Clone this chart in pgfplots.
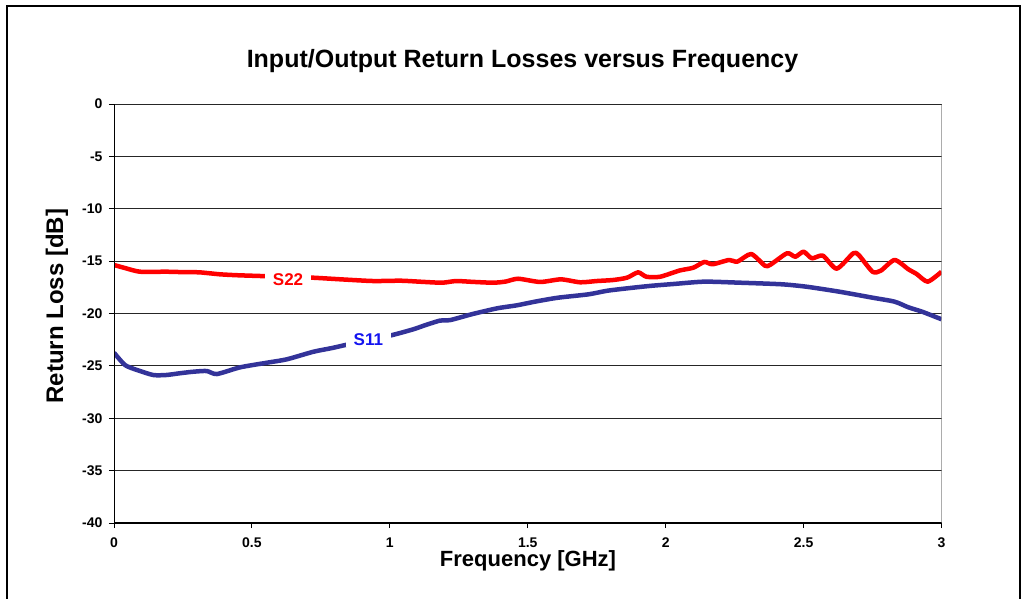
\documentclass[border=0pt]{standalone}
\usepackage{pgfplots}
\pgfplotsset{compat=1.18}
\usepackage{fontspec}
\setmainfont{Liberation Sans}
\definecolor{sred}{RGB}{255,0,0}
\definecolor{snavy}{RGB}{51,51,153}
\definecolor{sblue}{RGB}{20,20,240}
\begin{document}
\begin{tikzpicture}[x=1pt,y=1pt]
\useasboundingbox (0,0) rectangle (1026,-599);
\draw[line width=2pt] (7,-640) -- (7,-6) -- (1020,-6) -- (1020,-640);
\node[anchor=base, font=\fontsize{25}{30}\selectfont\bfseries] at (522.5,-68) {Input/Output Return Losses versus Frequency};
\node[anchor=base, rotate=90, font=\fontsize{24}{28}\selectfont\bfseries] at (63,-306) {Return Loss [dB]};
\begin{axis}[
  at={(114pt,-523pt)}, anchor=south west,
  scale only axis, width=827.5pt, height=419pt,
  xmin=0, xmax=3, ymin=-40, ymax=0,
  xtick={0,0.5,1,1.5,2,2.5,3},
  xticklabels={0,0.5,1,1.5,2,2.5,3},
  ytick={-40,-35,-30,-25,-20,-15,-10,-5,0},
  yticklabels={-40,-35,-30,-25,-20,-15,-10,-5,0},
  tick pos=left, tick align=outside, major tick length=5pt,
  tick style={black, line width=1pt},
  ymajorgrids, grid style={black!85, line width=1pt},
  axis line style={draw=none},
  xticklabel style={font=\fontsize{14}{16}\selectfont\bfseries, yshift=-6.5pt},
  yticklabel style={font=\fontsize{14}{16}\selectfont\bfseries, xshift=-3pt},
  clip=true,
]
\addplot[sred, line width=4.5pt, smooth, tension=0.4, line join=round] coordinates {
(0,-15.37) (0.04,-15.66) (0.094,-16.01) (0.19,-16.01) (0.25,-16.05) (0.31,-16.07) (0.385,-16.26) (0.45,-16.35) (0.53,-16.42) (0.62,-16.5) (0.72,-16.58) (0.83,-16.75) (0.94,-16.90) (1.04,-16.87) (1.12,-16.98) (1.19,-17.06) (1.24,-16.90) (1.30,-16.98) (1.375,-17.06) (1.42,-16.95) (1.465,-16.68) (1.545,-16.99) (1.62,-16.74) (1.69,-17.02) (1.75,-16.9) (1.81,-16.80) (1.86,-16.58) (1.90,-16.07) (1.93,-16.49) (1.98,-16.49) (2.05,-15.9) (2.10,-15.63) (2.14,-15.08) (2.17,-15.30) (2.23,-14.89) (2.26,-15.05) (2.31,-14.32) (2.36,-15.44) (2.38,-15.34) (2.44,-14.25) (2.47,-14.58) (2.50,-14.10) (2.53,-14.73) (2.57,-14.48) (2.62,-15.72) (2.68,-14.25) (2.70,-14.42) (2.75,-16.01) (2.78,-15.91) (2.83,-14.89) (2.88,-15.78) (2.91,-16.23) (2.95,-16.96) (3.0,-16.01)
};
\addplot[snavy, line width=4.5pt, smooth, tension=0.4, line join=round] coordinates {
(0,-23.74) (0.04,-24.92) (0.083,-25.39) (0.142,-25.87) (0.19,-25.87) (0.24,-25.7) (0.287,-25.56) (0.336,-25.49) (0.373,-25.78) (0.457,-25.14) (0.554,-24.70) (0.627,-24.37) (0.723,-23.65) (0.79,-23.3) (0.85,-22.94) (0.93,-22.5) (1.01,-22.05) (1.085,-21.51) (1.12,-21.19) (1.18,-20.69) (1.22,-20.62) (1.30,-20.05) (1.39,-19.50) (1.46,-19.22) (1.53,-18.85) (1.61,-18.49) (1.72,-18.17) (1.79,-17.82) (1.88,-17.54) (1.95,-17.35) (2.03,-17.18) (2.14,-16.96) (2.27,-17.06) (2.42,-17.21) (2.51,-17.44) (2.63,-17.92) (2.75,-18.49) (2.83,-18.87) (2.88,-19.41) (2.93,-19.83) (3.0,-20.55)
};
\node[fill=white, text=sred, inner xsep=8pt, inner ysep=2pt, font=\fontsize{17}{20}\selectfont\bfseries] at (axis cs:0.631,-16.77) {S22};
\node[fill=white, text=sblue, inner xsep=8pt, inner ysep=2pt, font=\fontsize{17}{20}\selectfont\bfseries] at (axis cs:0.922,-22.45) {S11};
\draw[black!50, line width=1.5pt] (rel axis cs:0,1) -- (rel axis cs:1,1) -- (rel axis cs:1,0);
\draw[black!85, line width=1pt] (rel axis cs:0,1) -- (rel axis cs:1,1);
\draw[black, line width=1.5pt] (rel axis cs:0,1) -- (rel axis cs:0,0) -- (rel axis cs:1,0);
\end{axis}
\node[anchor=base, font=\fontsize{22}{26}\selectfont\bfseries] at (528,-566) {Frequency [GHz]};
\end{tikzpicture}
\end{document}
